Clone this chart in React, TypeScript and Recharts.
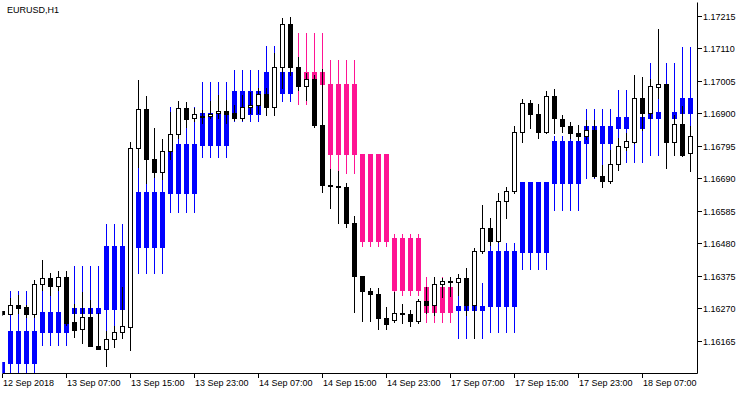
import { Bar, ComposedChart, XAxis, YAxis } from "recharts";

// EURUSD H1 candles, 12 Sep 23:00 .. 18 Sep 10:00
const opens = [
  1.16262, 1.16253, 1.1628, 1.16275, 1.16251, 1.16348, 1.16368, 1.16344, 1.16371, 1.16226,
  1.16203, 1.16242, 1.1615, 1.16138, 1.16171, 1.16193, 1.16211, 1.16788, 1.16914, 1.16752,
  1.16712, 1.16779, 1.16833, 1.16917, 1.16884, 1.16892, 1.16892, 1.16901, 1.16907, 1.16901,
  1.16886, 1.1692, 1.16927, 1.16963, 1.16922, 1.17051, 1.17188, 1.17051, 1.16989, 1.1701,
  1.16864, 1.16669, 1.16667, 1.16664, 1.16547, 1.16376, 1.16328, 1.16316, 1.1624, 1.16232,
  1.16255, 1.16251, 1.16231, 1.16294, 1.16281, 1.16348, 1.16359, 1.16357, 1.16368, 1.16281,
  1.16456, 1.16529, 1.16489, 1.16617, 1.1665, 1.1684, 1.16933, 1.16897, 1.16839, 1.16956,
  1.16883, 1.16861, 1.16836, 1.16828, 1.16847, 1.16699, 1.16683, 1.16736, 1.16793, 1.16809,
  1.16949, 1.16903, 1.16987, 1.16994, 1.16809, 1.16866, 1.16771,
];
const highs = [
  1.16262, 1.16303, 1.16314, 1.16281, 1.16362, 1.16427, 1.16386, 1.16391, 1.16391, 1.16285,
  1.16324, 1.16298, 1.16256, 1.16197, 1.16214, 1.16339, 1.16808, 1.17008, 1.16957, 1.16853,
  1.16817, 1.16905, 1.1694, 1.16936, 1.16918, 1.1691, 1.1694, 1.1696, 1.16944, 1.16927,
  1.1696, 1.1697, 1.16981, 1.16981, 1.17095, 1.17209, 1.17211, 1.17082, 1.1703, 1.17024,
  1.17043, 1.16722, 1.16714, 1.16674, 1.16569, 1.16376, 1.16335, 1.16335, 1.16274, 1.16323,
  1.16286, 1.16265, 1.16301, 1.16339, 1.16372, 1.1637, 1.16373, 1.16381, 1.164, 1.16466,
  1.16604, 1.16561, 1.16642, 1.16664, 1.1686, 1.16946, 1.16944, 1.16931, 1.16973, 1.16979,
  1.16895, 1.16874, 1.16862, 1.16879, 1.16879, 1.16732, 1.16782, 1.16821, 1.16837, 1.17024,
  1.17018, 1.17011, 1.17172, 1.16995, 1.16895, 1.16924, 1.1686,
];
const lows = [
  1.16249, 1.16252, 1.16256, 1.16242, 1.16243, 1.1633, 1.16314, 1.1633, 1.16217, 1.16179,
  1.1616, 1.16149, 1.16139, 1.16085, 1.16147, 1.16174, 1.16136, 1.16728, 1.16676, 1.16695,
  1.16688, 1.16754, 1.1682, 1.16857, 1.16876, 1.16868, 1.16885, 1.16886, 1.1687, 1.16879,
  1.16879, 1.16901, 1.16901, 1.16895, 1.16895, 1.16981, 1.17024, 1.16976, 1.16944, 1.16855,
  1.16647, 1.16596, 1.16545, 1.16534, 1.1626, 1.16231, 1.16231, 1.16203, 1.16203, 1.16227,
  1.16223, 1.16214, 1.16222, 1.16255, 1.16249, 1.16306, 1.1631, 1.16314, 1.16249, 1.16174,
  1.16448, 1.16475, 1.16486, 1.16563, 1.16642, 1.16809, 1.16852, 1.1682, 1.16838, 1.16836,
  1.16841, 1.1682, 1.16814, 1.16817, 1.16694, 1.16664, 1.16675, 1.16717, 1.16782, 1.16804,
  1.16847, 1.16885, 1.1695, 1.16723, 1.16766, 1.16764, 1.16715,
];
const closes = [
  1.16251, 1.1628, 1.16273, 1.16251, 1.16348, 1.16368, 1.16344, 1.16371, 1.16222, 1.16201,
  1.16242, 1.1615, 1.1614, 1.16171, 1.16193, 1.16214, 1.16788, 1.16914, 1.16752, 1.16712,
  1.16779, 1.16833, 1.16917, 1.16883, 1.16897, 1.1689, 1.16898, 1.16907, 1.16898, 1.16886,
  1.1692, 1.16927, 1.16963, 1.16922, 1.17051, 1.17188, 1.17051, 1.16989, 1.1701, 1.16864,
  1.16669, 1.16667, 1.16664, 1.16547, 1.16376, 1.16328, 1.16316, 1.1624, 1.16219, 1.16255,
  1.16251, 1.16231, 1.16294, 1.16281, 1.16348, 1.16359, 1.16357, 1.16368, 1.16281, 1.16456,
  1.16529, 1.16489, 1.16617, 1.1665, 1.1684, 1.16933, 1.16897, 1.16839, 1.16956, 1.16885,
  1.16861, 1.16836, 1.16828, 1.16847, 1.16699, 1.16683, 1.16736, 1.16795, 1.16811, 1.16949,
  1.16903, 1.16989, 1.16994, 1.16809, 1.16866, 1.16766, 1.16827,
];

// H4 overlay, one value per 4-hour block (first block holds only bar 0)
const h4Open = [
  1.16062, 1.16095, 1.16195, 1.16256, 1.16268, 1.1647, 1.16644, 1.16798, 1.16898, 1.16967, 1.17034, 1.16994,
  1.16768, 1.16498, 1.16339, 1.16265, 1.16278, 1.16454, 1.16676, 1.16806, 1.16854, 1.16886, 1.16903,
];
const h4High = [
  1.16098, 1.16328, 1.16386, 1.16407, 1.16543, 1.16728, 1.16922, 1.17003, 1.17041, 1.17118, 1.17159, 1.17073,
  1.16768, 1.16511, 1.16373, 1.16351, 1.16481, 1.1668, 1.16827, 1.16915, 1.16976, 1.17062, 1.17115,
];
const h4Low = [
  1.16062, 1.16062, 1.16152, 1.16256, 1.16179, 1.16386, 1.16583, 1.1676, 1.16877, 1.16941, 1.1693, 1.16707,
  1.16473, 1.16315, 1.16227, 1.16174, 1.16195, 1.16398, 1.16588, 1.16693, 1.16744, 1.16766, 1.16782,
];
const h4Close = [
  1.16098, 1.16197, 1.16259, 1.16273, 1.16473, 1.16647, 1.16801, 1.16901, 1.16973, 1.17034, 1.16994, 1.16768,
  1.16489, 1.1633, 1.1626, 1.16278, 1.16456, 1.1668, 1.16812, 1.1686, 1.1689, 1.16904, 1.16949,
];

const timeTickBars = [0, 8, 16, 24, 32, 40, 48, 56, 64, 72, 80];
const timeTickLabels = [
  "12 Sep 2018", "13 Sep 07:00", "13 Sep 15:00", "13 Sep 23:00", "14 Sep 07:00", "14 Sep 15:00",
  "14 Sep 23:00", "17 Sep 07:00", "17 Sep 15:00", "17 Sep 23:00", "18 Sep 07:00",
];
const priceTicks = [1.17215, 1.1711, 1.17005, 1.169, 1.16795, 1.1669, 1.16585, 1.1648, 1.16375, 1.1627, 1.16165];

const BLUE = "#0000ff";
const PINK = "#ff1493";
const FONT = "'Liberation Sans', Arial, sans-serif";

const data = opens.map((o, i) => {
  const g = Math.ceil(i / 4);
  return {
    i,
    o,
    h: highs[i],
    l: lows[i],
    c: closes[i],
    candle: [lows[i], highs[i]],
    ho: h4Open[g],
    hh: h4High[g],
    hl: h4Low[g],
    hc: h4Close[g],
    h4: [h4Low[g], h4High[g]],
  };
});

// pixel row of a price inside a ranged bar rect
function rowOf(v: number, hi: number, lo: number, y: number, height: number) {
  const span = hi - lo;
  return Math.floor(span > 0 ? y + ((hi - v) / span) * height : y);
}

function H4Shape(props: any) {
  const { x, y, width, height, payload } = props;
  if (x == null || !payload) return null;
  const { ho, hh, hl, hc } = payload;
  const left = Math.round(x + width / 2 - 2.5);
  const color = hc >= ho ? BLUE : PINK;
  const yh = rowOf(hh, hh, hl, y, height);
  const yl = rowOf(hl, hh, hl, y, height);
  const top = rowOf(Math.max(ho, hc), hh, hl, y, height);
  const bot = rowOf(Math.min(ho, hc), hh, hl, y, height);
  return (
    <g>
      <rect x={left + 2} y={yh} width={1} height={yl - yh + 1} fill={color} />
      <rect x={left} y={top} width={5} height={bot - top + 1} fill={color} />
    </g>
  );
}

function CandleShape(props: any) {
  const { x, y, width, height, payload } = props;
  if (x == null || !payload) return null;
  const { o, h, l, c } = payload;
  const left = Math.round(x + width / 2 - 2.5);
  const yh = rowOf(h, h, l, y, height);
  const yl = rowOf(l, h, l, y, height);
  const top = rowOf(Math.max(o, c), h, l, y, height);
  const bot = rowOf(Math.min(o, c), h, l, y, height);
  return (
    <g>
      <rect x={left + 2} y={yh} width={1} height={yl - yh + 1} fill="#000" />
      {c > o ? (
        <rect x={left + 0.5} y={top + 0.5} width={4} height={Math.max(bot - top, 1)} fill="#fff" stroke="#000" strokeWidth={1} />
      ) : (
        <rect x={left} y={top} width={5} height={bot - top + 1} fill="#000" />
      )}
    </g>
  );
}

function TimeTick(props: any) {
  const { x, payload } = props;
  const px = Math.floor(x);
  const idx = timeTickBars.indexOf(payload.value);
  return (
    <g>
      <rect x={px} y={374} width={1} height={4} fill="#000" />
      <text x={px + 1} y={386} fontSize={9} fontFamily={FONT} fill="#000" textAnchor="start">
        {timeTickLabels[idx]}
      </text>
    </g>
  );
}

function PriceTick(props: any) {
  const { y, payload } = props;
  const py = Math.floor(y);
  return (
    <g>
      <rect x={698} y={py} width={4} height={1} fill="#000" />
      <text x={703} y={py + 3.8} fontSize={9} fontFamily={FONT} fill="#000" textAnchor="start">
        {payload.value.toFixed(5)}
      </text>
    </g>
  );
}

const xDomain = [-0.025, 86.85];
const yDomain = [1.160616, 1.172602];

export default function App() {
  return (
    <div style={{ position: "absolute", left: 0, top: 0, width: 750, height: 394, background: "#fff" }}>
      <ComposedChart width={750} height={394} data={data} margin={{ top: 2.5, right: 0, bottom: 0, left: 2.5 }}>
        <XAxis
          xAxisId="c"
          dataKey="i"
          type="number"
          domain={xDomain}
          allowDataOverflow
          ticks={timeTickBars}
          interval={0}
          height={20.5}
          tickLine={false}
          tick={<TimeTick />}
          axisLine={{ stroke: "#000" }}
        />
        <XAxis xAxisId="h4" dataKey="i" type="number" domain={xDomain} allowDataOverflow hide />
        <XAxis
          xAxisId="top"
          orientation="top"
          type="number"
          domain={[0, 1]}
          height={0}
          tick={false}
          tickLine={false}
          axisLine={{ stroke: "#000" }}
        />
        <YAxis
          yAxisId="p"
          orientation="right"
          type="number"
          domain={yDomain}
          allowDataOverflow
          ticks={priceTicks}
          interval={0}
          width={52.5}
          tickLine={false}
          tick={<PriceTick />}
          axisLine={{ stroke: "#000" }}
        />
        <YAxis
          yAxisId="left"
          orientation="left"
          type="number"
          domain={[0, 1]}
          width={0}
          tick={false}
          tickLine={false}
          axisLine={{ stroke: "#000" }}
        />
        <Bar xAxisId="h4" yAxisId="p" dataKey="h4" barSize={5} shape={<H4Shape />} isAnimationActive={false} />
        <Bar xAxisId="c" yAxisId="p" dataKey="candle" barSize={5} shape={<CandleShape />} isAnimationActive={false} />
      </ComposedChart>
      <div
        style={{
          position: "absolute",
          left: 7,
          top: 6,
          fontFamily: FONT,
          fontSize: 9,
          lineHeight: "9px",
          color: "#000",
        }}
      >
        EURUSD,H1
      </div>
    </div>
  );
}
